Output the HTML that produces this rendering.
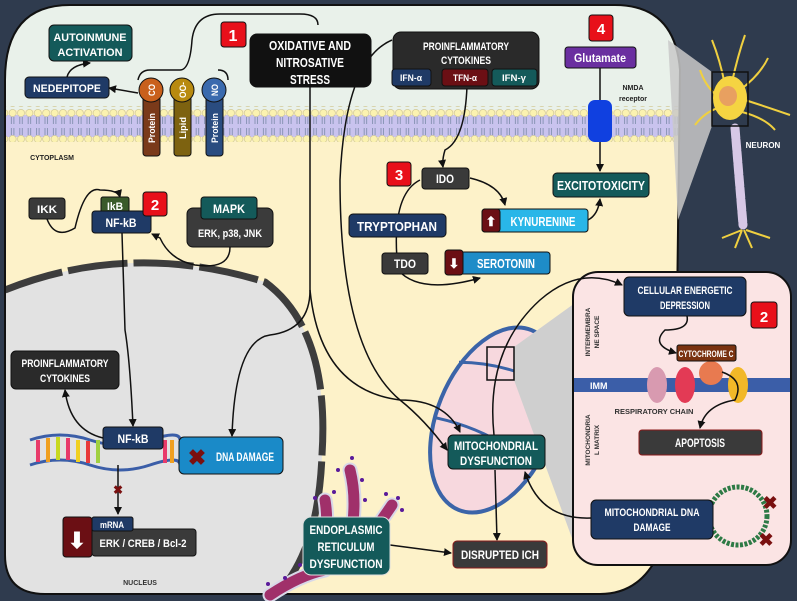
<!DOCTYPE html>
<html><head><meta charset="utf-8"><style>
html,body{margin:0;padding:0;background:#2f3b4e;}
svg{display:block}
text{font-family:"Liberation Sans",sans-serif;font-weight:bold;fill:#fff;text-anchor:middle}
.s{fill:#222}
</style></head><body>
<svg width="797" height="601" viewBox="0 0 797 601" xmlns="http://www.w3.org/2000/svg">
<defs>
<marker id="a" markerWidth="8" markerHeight="8" refX="7" refY="4" orient="auto" markerUnits="userSpaceOnUse"><path d="M0,0 L8,4 L0,8 Z" fill="#111"/></marker>
<clipPath id="cell"><path d="M70,5 L615,5 Q675,5 680,70 L675,470 Q670,594 600,594 L45,594 Q5,594 5,555 L5,80 Q5,5 70,5 Z"/></clipPath>
<pattern id="mem" width="8.4" height="36" patternUnits="userSpaceOnUse">
<circle cx="4.2" cy="5" r="3.6" fill="#fbf2b0" stroke="#c8c090" stroke-width="0.6"/>
<circle cx="4.2" cy="31" r="3.6" fill="#fbf2b0" stroke="#c8c090" stroke-width="0.6"/>
<path d="M3,9 L3,16 M5.5,9 L5.5,16 M3,20 L3,27 M5.5,20 L5.5,27" stroke="#7a8aa8" stroke-width="0.8"/>
</pattern>
</defs>
<rect width="797" height="601" fill="#2f3b4e"/>
<g clip-path="url(#cell)">
<rect x="0" y="0" width="700" height="601" fill="#fdf2c9"/>
<rect x="0" y="0" width="700" height="110" fill="#e9f1ea"/>
<rect x="0" y="115" width="700" height="22" fill="#c9c3ee"/>
<rect x="0" y="106" width="700" height="36" fill="url(#mem)"/>
<path d="M5,290 Q130,240 265,282 Q330,330 322,455 Q318,560 270,600 L0,601 Z" fill="#e2e2e2"/>
<path d="M5,290 Q130,240 265,282 Q330,330 322,455 Q318,560 270,600" fill="none" stroke="#3d3d3d" stroke-width="7" stroke-dasharray="60,6"/>
</g>
<path d="M70,5 L615,5 Q675,5 680,70 L675,470 Q670,594 600,594 L45,594 Q5,594 5,555 L5,80 Q5,5 70,5 Z" fill="none" stroke="#111" stroke-width="2"/>
<!-- neuron panel -->
<path d="M712,72 L668,40 L678,220 L712,126 Z" fill="#c9c9c9" opacity="0.85"/>
<g stroke="#f0d040" stroke-width="2" fill="none">
<path d="M725,85 Q720,60 712,40 M732,82 Q738,55 745,35 M740,90 Q760,75 768,58 M745,100 Q770,108 790,115 M742,112 Q765,118 775,130 M718,108 Q705,112 695,125 M716,95 Q705,85 700,70"/>
<path d="M742,230 L722,238 M742,230 L735,248 M744,230 L752,248 M746,230 L770,238"/>
</g>
<ellipse cx="730" cy="98" rx="17" ry="22" fill="#f5d442"/>
<ellipse cx="728" cy="96" rx="9" ry="10" fill="#e8a060"/>
<path d="M735,128 L743,225" stroke="#d7c8e6" stroke-width="9" stroke-linecap="round" stroke-dasharray="10,2"/>
<rect x="712" y="72" width="36" height="54" fill="none" stroke="#111" stroke-width="1.5"/>
<text x="763" y="148" style="font-size:8px">NEURON</text>
<!-- mitochondrion -->
<g transform="rotate(22 495 420)">
<ellipse cx="495" cy="420" rx="58" ry="97" fill="#f7d8de" stroke="#3b64a8" stroke-width="4"/>
<path d="M440,380 Q490,360 550,370 M440,440 Q500,430 550,450" stroke="#3b64a8" stroke-width="3" fill="none"/>
</g>
<!-- pink box -->
<path d="M514,347 L600,285 L580,560 L514,380 Z" fill="#cfcfcf"/>
<rect x="487" y="347" width="27" height="33" fill="none" stroke="#111" stroke-width="1.5"/>
<rect x="573" y="272" width="218" height="293" rx="25" fill="#fbe4e4" stroke="#111" stroke-width="2"/>
<rect x="574" y="378" width="216" height="14" fill="#3b5ea8"/>
<text x="590" y="389" style="font-size:9px;text-anchor:start">IMM</text>
<ellipse cx="657" cy="385" rx="10" ry="18" fill="#d89ab0"/>
<ellipse cx="685" cy="385" rx="10" ry="18" fill="#e33a55"/>
<circle cx="711" cy="373" r="12" fill="#e87a50"/>
<ellipse cx="738" cy="385" rx="10" ry="18" fill="#f2b828"/>
<text x="654" y="414" class="s" style="font-size:7.5px;fill:#333">RESPIRATORY CHAIN</text>
<text transform="translate(590,332) rotate(-90)" class="s" style="font-size:6.5px;fill:#333">INTERMEMBRA</text>
<text transform="translate(599,332) rotate(-90)" class="s" style="font-size:6.5px;fill:#333">NE SPACE</text>
<text transform="translate(590,440) rotate(-90)" class="s" style="font-size:6.5px;fill:#333">MITOCHONDRIA</text>
<text transform="translate(599,440) rotate(-90)" class="s" style="font-size:6.5px;fill:#333">L MATRIX</text>
<circle cx="738" cy="516" r="29" fill="none" stroke="#2d7a45" stroke-width="5" stroke-dasharray="3,1.5"/>
<text x="770" y="509" style="font-size:18px;fill:#7a1010">✖</text>
<text x="766" y="546" style="font-size:18px;fill:#7a1010">✖</text>
<!-- ER -->
<g fill="none" stroke-linecap="round">
<g stroke="#d8d8e8" stroke-width="15">
<path d="M350,470 Q360,510 345,560"/><path d="M325,500 Q330,530 320,565"/><path d="M392,505 Q375,530 360,550"/><path d="M270,595 Q300,575 325,570"/></g>
<g stroke="#a0306a" stroke-width="11">
<path d="M350,470 Q360,510 345,560"/><path d="M325,500 Q330,530 320,565"/><path d="M392,505 Q375,530 360,550"/><path d="M270,595 Q300,575 325,570"/></g>
</g>
<g fill="#5a1a9a"><circle cx="352" cy="458" r="2"/><circle cx="362" cy="480" r="2"/><circle cx="338" cy="470" r="2"/><circle cx="315" cy="498" r="2"/><circle cx="334" cy="492" r="2"/><circle cx="398" cy="498" r="2"/><circle cx="386" cy="494" r="2"/><circle cx="402" cy="510" r="2"/><circle cx="268" cy="584" r="2"/><circle cx="285" cy="578" r="2"/><circle cx="300" cy="565" r="2"/><circle cx="365" cy="500" r="2"/></g>
<!-- DNA -->
<path d="M30,440 Q60,430 90,440 T150,440 T180,440" stroke="#3b5ea8" stroke-width="3" fill="none"/>
<path d="M30,465 Q60,455 90,465 T150,465 T180,465" stroke="#3b5ea8" stroke-width="3" fill="none"/>
<g stroke-width="4"><path d="M38,440 V462" stroke="#e83a6a"/><path d="M48,438 V462" stroke="#f0a020"/><path d="M58,437 V460" stroke="#c8d820"/><path d="M68,438 V460" stroke="#e83a6a"/><path d="M78,440 V462" stroke="#f0d020"/><path d="M88,441 V463" stroke="#e83a3a"/><path d="M98,440 V463" stroke="#a0d040"/><path d="M165,440 V463" stroke="#e83a6a"/><path d="M172,440 V463" stroke="#f0a020"/></g>
<!-- connectors -->
<g fill="none" stroke="#111" stroke-width="1.5">
<path d="M138,80 Q140,70 150,70 L180,70 Q190,70 192,40 Q195,14 220,14 L300,14 Q318,14 318,25"/>
<path d="M218,70 Q228,70 228,80"/>
<path d="M310,87 L310,290 Q310,330 270,335 Q235,340 232,436" marker-end="url(#a)"/>
<path d="M138,93 L109,88" marker-end="url(#a)"/>
<path d="M67,77 Q70,65 90,63" marker-end="url(#a)"/>
<path d="M47,219 Q55,240 75,228 Q85,185 100,190 Q118,190 120,197" marker-end="url(#a)"/>
<path d="M230,247 Q230,270 195,265 Q170,260 160,238 L152,234" marker-end="url(#a)"/>
<path d="M122,233 L125,330 Q130,360 133,426" marker-end="url(#a)"/>
<path d="M103,438 Q70,430 65,390" marker-end="url(#a)"/>
<path d="M118,465 L118,514" marker-end="url(#a)"/>
<path d="M467,86 Q465,140 445,150 Q442,160 443,167" marker-end="url(#a)"/>
<path d="M420,180 Q390,195 398,270"/>
<path d="M398,270 Q420,295 480,278" marker-end="url(#a)"/>
<path d="M470,178 Q500,185 505,205" marker-end="url(#a)"/>
<path d="M588,220 Q598,215 600,199" marker-end="url(#a)"/>
<path d="M600,68 L600,171" marker-end="url(#a)"/>
<path d="M392,40 Q345,60 340,180 Q340,350 400,400 Q425,420 447,450" marker-end="url(#a)"/>
<path d="M310,290 Q320,390 400,400 Q445,400 460,432" marker-end="url(#a)"/>
<path d="M495,470 L497,540" marker-end="url(#a)"/>
<path d="M390,545 L451,553" marker-end="url(#a)"/>
<path d="M494,435 Q485,350 540,300 Q580,265 622,285" marker-end="url(#a)"/>
<path d="M591,518 Q540,520 525,472" marker-end="url(#a)"/>
<path d="M687,316 Q690,330 665,330 Q650,345 676,353" marker-end="url(#a)"/>
<path d="M722,372 Q745,380 735,400 Q705,405 700,428" marker-end="url(#a)"/>
</g>
<!-- boxes -->
<g stroke="#111" stroke-width="1">
<rect x="49" y="25" width="83" height="36" rx="5" fill="#145a5a"/>
<rect x="25" y="77" width="84" height="21" rx="4" fill="#1f3a66"/>
<rect x="143" y="96" width="17" height="60" rx="3" fill="#7a3a1a"/>
<circle cx="151" cy="90" r="12" fill="#c9601c"/>
<rect x="174" y="96" width="17" height="60" rx="3" fill="#7d6210"/>
<circle cx="182" cy="90" r="12" fill="#b88a10"/>
<rect x="206" y="96" width="17" height="60" rx="3" fill="#2a4c80"/>
<circle cx="214" cy="90" r="12" fill="#3a6aae"/>
<rect x="221" y="22" width="25" height="25" rx="3" fill="#e8101a"/>
<rect x="250" y="34" width="121" height="53" rx="7" fill="#111"/>
<rect x="29" y="198" width="36" height="21" rx="3" fill="#3a3a3a"/>
<rect x="101" y="197" width="28" height="17" rx="2" fill="#3a5a2a"/>
<rect x="92" y="211" width="59" height="22" rx="3" fill="#1f3a66"/>
<rect x="143" y="192" width="24" height="24" rx="3" fill="#e8101a"/>
<rect x="187" y="208" width="86" height="39" rx="6" fill="#3b3b3b"/>
<rect x="201" y="197" width="56" height="22" rx="3" fill="#145a5a"/>
<rect x="393" y="32" width="146" height="57" rx="8" fill="#2a2a2a"/>
<rect x="392" y="69" width="39" height="17" rx="3" fill="#1f3a66"/>
<rect x="442" y="69" width="46" height="17" rx="3" fill="#6b0f14"/>
<rect x="492" y="69" width="45" height="17" rx="3" fill="#145a5a"/>
<rect x="589" y="15" width="24" height="26" rx="3" fill="#e8101a"/>
<rect x="565" y="47" width="71" height="21" rx="3" fill="#6a2fa0"/>
<rect x="588" y="100" width="24" height="42" rx="7" fill="#1040e0" stroke="none"/>
<rect x="553" y="173" width="96" height="24" rx="4" fill="#145a5a"/>
<rect x="422" y="168" width="47" height="21" rx="3" fill="#3a3a3a"/>
<rect x="387" y="162" width="24" height="24" rx="3" fill="#e8101a"/>
<rect x="349" y="214" width="97" height="23" rx="4" fill="#1f3a66"/>
<rect x="382" y="253" width="46" height="21" rx="3" fill="#3a3a3a"/>
<rect x="482" y="209" width="106" height="23" rx="3" fill="#29b6e8"/>
<rect x="482" y="209" width="18" height="23" rx="3" fill="#6b0f14"/>
<rect x="445" y="252" width="105" height="22" rx="3" fill="#1e8cc8"/>
<rect x="445" y="250" width="18" height="25" rx="3" fill="#6b0f14"/>
<rect x="11" y="351" width="108" height="38" rx="5" fill="#2a2a2a"/>
<rect x="103" y="427" width="60" height="22" rx="3" fill="#1f3a66"/>
<rect x="179" y="437" width="104" height="37" rx="5" fill="#1a8ac8"/>
<rect x="92" y="529" width="104" height="27" rx="3" fill="#3a3a3a"/>
<rect x="92" y="517" width="41" height="14" rx="2" fill="#1f3a66"/>
<rect x="63" y="517" width="29" height="40" rx="3" fill="#6b0f14"/>
<rect x="303" y="517" width="87" height="58" rx="8" fill="#145a5a" stroke="#ddd"/>
<rect x="448" y="435" width="97" height="34" rx="5" fill="#145a5a"/>
<rect x="453" y="541" width="94" height="27" rx="4" fill="#3a3a3a" stroke="#8a1a1a"/>
<rect x="624" y="277" width="122" height="39" rx="5" fill="#1f3a66"/>
<rect x="751" y="302" width="26" height="26" rx="3" fill="#e8101a"/>
<rect x="677" y="345" width="59" height="16" rx="2" fill="#7a3210"/>
<rect x="639" y="430" width="123" height="25" rx="3" fill="#3a3a3a" stroke="#8a1a1a"/>
<rect x="591" y="500" width="122" height="39" rx="5" fill="#1f3a66"/>
</g>
<!-- texts -->
<g style="font-size:11px" lengthAdjust="spacingAndGlyphs">
<text x="90" y="41" textLength="73" lengthAdjust="spacingAndGlyphs">AUTOINMUNE</text><text x="90" y="56" textLength="65" lengthAdjust="spacingAndGlyphs">ACTIVATION</text>
<text x="67" y="92" textLength="68" lengthAdjust="spacingAndGlyphs">NEDEPITOPE</text>
<text x="233" y="41" style="font-size:16px">1</text>
<text x="310" y="50" style="font-size:13px" textLength="82" lengthAdjust="spacingAndGlyphs">OXIDATIVE AND</text><text x="310" y="67" style="font-size:13px" textLength="68" lengthAdjust="spacingAndGlyphs">NITROSATIVE</text><text x="310" y="84" style="font-size:13px" textLength="40" lengthAdjust="spacingAndGlyphs">STRESS</text>
<text x="47" y="213" textLength="20" lengthAdjust="spacingAndGlyphs">IKK</text>
<text x="115" y="210" textLength="16" lengthAdjust="spacingAndGlyphs">IkB</text>
<text x="121" y="227" style="font-size:12px" textLength="31" lengthAdjust="spacingAndGlyphs">NF-kB</text>
<text x="155" y="210" style="font-size:15px">2</text>
<text x="229" y="213" style="font-size:12px" textLength="32" lengthAdjust="spacingAndGlyphs">MAPK</text>
<text x="230" y="237" textLength="64" lengthAdjust="spacingAndGlyphs">ERK, p38, JNK</text>
<text x="466" y="50" textLength="86" lengthAdjust="spacingAndGlyphs">PROINFLAMMATORY</text><text x="466" y="64" textLength="50" lengthAdjust="spacingAndGlyphs">CYTOKINES</text>
<text x="411" y="81" style="font-size:9.5px" textLength="22" lengthAdjust="spacingAndGlyphs">IFN-α</text><text x="465" y="81" style="font-size:9.5px" textLength="24" lengthAdjust="spacingAndGlyphs">TFN-α</text><text x="514" y="81" style="font-size:9.5px" textLength="24" lengthAdjust="spacingAndGlyphs">IFN-γ</text>
<text x="601" y="34" style="font-size:15px">4</text>
<text x="600" y="62" style="font-size:12px" textLength="52" lengthAdjust="spacingAndGlyphs">Glutamate</text>
<text x="601" y="190" style="font-size:13px" textLength="88" lengthAdjust="spacingAndGlyphs">EXCITOTOXICITY</text>
<text x="445" y="183" style="font-size:12px" textLength="18" lengthAdjust="spacingAndGlyphs">IDO</text>
<text x="399" y="180" style="font-size:15px">3</text>
<text x="397" y="231" style="font-size:13px" textLength="80" lengthAdjust="spacingAndGlyphs">TRYPTOPHAN</text>
<text x="405" y="268" style="font-size:12px" textLength="22" lengthAdjust="spacingAndGlyphs">TDO</text>
<text x="491" y="226" style="font-size:13px">⬆</text>
<text x="543" y="226" style="font-size:13px" textLength="65" lengthAdjust="spacingAndGlyphs">KYNURENINE</text>
<text x="454" y="268" style="font-size:13px">⬇</text>
<text x="506" y="268" style="font-size:13px" textLength="58" lengthAdjust="spacingAndGlyphs">SEROTONIN</text>
<text x="65" y="367" textLength="87" lengthAdjust="spacingAndGlyphs">PROINFLAMMATORY</text><text x="65" y="382" textLength="50" lengthAdjust="spacingAndGlyphs">CYTOKINES</text>
<text x="133" y="443" style="font-size:12px" textLength="31" lengthAdjust="spacingAndGlyphs">NF-kB</text>
<text x="197" y="465" style="font-size:22px;fill:#7a1010">✖</text>
<text x="245" y="461" style="font-size:12px" textLength="58" lengthAdjust="spacingAndGlyphs">DNA DAMAGE</text>
<text x="118" y="494" style="font-size:12px;fill:#7a1010">✖</text>
<text x="77" y="548" style="font-size:22px">⬇</text>
<text x="112" y="528" style="font-size:9.5px" textLength="24" lengthAdjust="spacingAndGlyphs">mRNA</text>
<text x="143" y="547" style="font-size:11px" textLength="87" lengthAdjust="spacingAndGlyphs">ERK / CREB / Bcl-2</text>
<text x="346" y="534" style="font-size:12px" textLength="73" lengthAdjust="spacingAndGlyphs">ENDOPLASMIC</text><text x="346" y="551" style="font-size:12px" textLength="57" lengthAdjust="spacingAndGlyphs">RETICULUM</text><text x="346" y="568" style="font-size:12px" textLength="73" lengthAdjust="spacingAndGlyphs">DYSFUNCTION</text>
<text x="496" y="450" style="font-size:12px" textLength="84" lengthAdjust="spacingAndGlyphs">MITOCHONDRIAL</text><text x="496" y="465" style="font-size:12px" textLength="72" lengthAdjust="spacingAndGlyphs">DYSFUNCTION</text>
<text x="500" y="559" style="font-size:12px" textLength="78" lengthAdjust="spacingAndGlyphs">DISRUPTED ICH</text>
<text x="685" y="294" textLength="95" lengthAdjust="spacingAndGlyphs">CELLULAR ENERGETIC</text><text x="685" y="309" textLength="50" lengthAdjust="spacingAndGlyphs">DEPRESSION</text>
<text x="764" y="322" style="font-size:15px">2</text>
<text x="706" y="357" style="font-size:9px" textLength="55" lengthAdjust="spacingAndGlyphs">CYTOCHROME C</text>
<text x="700" y="447" style="font-size:12px" textLength="50" lengthAdjust="spacingAndGlyphs">APOPTOSIS</text>
<text x="652" y="516" textLength="95" lengthAdjust="spacingAndGlyphs">MITOCHONDRIAL DNA</text><text x="652" y="531" textLength="37" lengthAdjust="spacingAndGlyphs">DAMAGE</text>
</g>
<g style="font-size:9.5px">
<text transform="translate(155,128) rotate(-90)" textLength="30" lengthAdjust="spacingAndGlyphs">Protein</text>
<text transform="translate(155,90) rotate(-90)" textLength="12" lengthAdjust="spacingAndGlyphs">CO</text>
<text transform="translate(186,128) rotate(-90)" textLength="22" lengthAdjust="spacingAndGlyphs">Lipid</text>
<text transform="translate(186,90) rotate(-90)" textLength="16" lengthAdjust="spacingAndGlyphs">OO-</text>
<text transform="translate(218,128) rotate(-90)" textLength="30" lengthAdjust="spacingAndGlyphs">Protein</text>
<text transform="translate(218,90) rotate(-90)" textLength="12" lengthAdjust="spacingAndGlyphs">NO</text>
</g>
<text x="52" y="160" class="s" style="font-size:7px">CYTOPLASM</text>
<text x="140" y="585" class="s" style="font-size:7px;fill:#333">NUCLEUS</text>
<text x="633" y="90" class="s" style="font-size:7px">NMDA</text>
<text x="633" y="101" class="s" style="font-size:7px">receptor</text>
</svg>
</body></html>
